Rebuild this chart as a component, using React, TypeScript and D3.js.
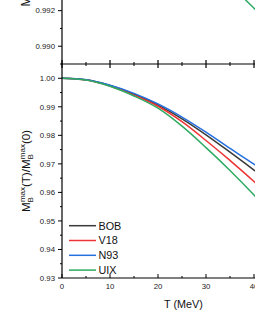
import React from 'react';
import * as d3 from 'd3';

const temps = [0, 5, 10, 15, 20, 25, 30, 35, 40, 42];
const bob = [1.0, 0.9995, 0.9975, 0.9944, 0.9906, 0.9858, 0.9802, 0.9741, 0.9678, 0.9652];
const v18 = [1.0, 0.9994, 0.9973, 0.9941, 0.9902, 0.9848, 0.9782, 0.9712, 0.9638, 0.9606];
const n93 = [1.0, 0.9995, 0.9976, 0.9947, 0.991, 0.9864, 0.9811, 0.9754, 0.9699, 0.9676];
const uix = [1.0, 0.9994, 0.9972, 0.9938, 0.9895, 0.9832, 0.9757, 0.9677, 0.9591, 0.9555];

// upper panel, only the UIX curve shows in this crop
const upperTemps = [36, 38, 40, 42];
const upperUix = [0.99325, 0.99267, 0.99214, 0.9916];

const seriesNames = ['BOB', 'V18', 'N93', 'UIX'];
const seriesColors = ['#3a3a3a', '#ee3434', '#2470e0', '#2eaa62'];
const seriesValues = [bob, v18, n93, uix];

const xMajor = [0, 10, 20, 30, 40];
const xMinor = [5, 15, 25, 35];
const lowMajor = [0.93, 0.94, 0.95, 0.96, 0.97, 0.98, 0.99, 1.0];
const lowMinor = [0.935, 0.945, 0.955, 0.965, 0.975, 0.985, 0.995];
const upMajor = [0.99, 0.992];
const upMinor = [0.989, 0.991];

const font = '"Liberation Sans", Arial, sans-serif';

export default function App() {
  const width = 255;
  const height = 330;

  const x = d3.scaleLinear().domain([0, 40]).range([62, 254]);
  const yLow = d3.scaleLinear().domain([0.93, 1.005]).range([278, 64]);
  const yUp = d3.scaleLinear().domain([0.989, 0.9926]).range([64, 0]);

  const lowLine = (vals: number[]) =>
    d3.line<number>()
      .x((_, i) => x(temps[i]))
      .y((v) => yLow(v))
      .curve(d3.curveMonotoneX)(vals) || '';

  const upLine = d3.line<number>()
    .x((_, i) => x(upperTemps[i]))
    .y((v) => yUp(v))
    .curve(d3.curveMonotoneX)(upperUix) || '';

  const axisX = x(0);
  const lowBase = yLow.range()[0];
  const split = yLow.range()[1];

  return (
    <svg width={width} height={height} style={{ position: 'absolute', left: 0, top: 0, background: '#fff' }}
      fontFamily={font}>
      <defs>
        <clipPath id="clipLow">
          <rect x={axisX} y={split} width={width} height={lowBase - split} />
        </clipPath>
        <clipPath id="clipUp">
          <rect x={axisX} y={0} width={width} height={split} />
        </clipPath>
      </defs>

      {/* upper panel */}
      <g clipPath="url(#clipUp)">
        <path d={upLine} fill="none" stroke={seriesColors[3]} strokeWidth={1.5} />
      </g>
      {upMajor.map((t) => (
        <g key={'um' + t}>
          <line x1={axisX - 4} x2={axisX} y1={yUp(t)} y2={yUp(t)} stroke="#000" strokeWidth={1} />
          <text x={axisX - 7} y={yUp(t) + 2.8} fontSize={7.8} textAnchor="end" fill="#222">{t.toFixed(3)}</text>
        </g>
      ))}
      {upMinor.map((t) => (
        <line key={'un' + t} x1={axisX - 2} x2={axisX} y1={yUp(t)} y2={yUp(t)} stroke="#000" strokeWidth={1} />
      ))}
      <text transform={`translate(30,6.5) rotate(-90)`} fontSize={12} fill="#111">M</text>

      {/* lower panel */}
      <g clipPath="url(#clipLow)">
        {seriesValues.map((vals, i) => (
          <path key={seriesNames[i]} d={lowLine(vals)} fill="none" stroke={seriesColors[i]} strokeWidth={1.5} />
        ))}
      </g>
      {lowMajor.map((t) => (
        <g key={'lm' + t}>
          <line x1={axisX - 4} x2={axisX} y1={yLow(t)} y2={yLow(t)} stroke="#000" strokeWidth={1} />
          <text x={axisX - 7} y={yLow(t) + 2.8} fontSize={7.8} textAnchor="end" fill="#222">{t.toFixed(2)}</text>
        </g>
      ))}
      {lowMinor.map((t) => (
        <line key={'ln' + t} x1={axisX - 2} x2={axisX} y1={yLow(t)} y2={yLow(t)} stroke="#000" strokeWidth={1} />
      ))}

      {/* shared split axis with crossing ticks */}
      <line x1={axisX} x2={width} y1={split} y2={split} stroke="#000" strokeWidth={1.2} />
      {xMajor.map((t) => (
        <line key={'sm' + t} x1={x(t)} x2={x(t)} y1={split - 4} y2={split + 4} stroke="#000" strokeWidth={1.2} />
      ))}
      {xMinor.map((t) => (
        <line key={'sn' + t} x1={x(t)} x2={x(t)} y1={split - 2} y2={split + 2} stroke="#000" strokeWidth={1} />
      ))}

      {/* bottom axis */}
      <line x1={axisX} x2={width} y1={lowBase} y2={lowBase} stroke="#000" strokeWidth={1.2} />
      {xMajor.map((t) => (
        <g key={'bm' + t}>
          <line x1={x(t)} x2={x(t)} y1={lowBase - 4} y2={lowBase} stroke="#000" strokeWidth={1} />
          <text x={x(t)} y={lowBase + 11} fontSize={7.8} textAnchor="middle" fill="#222">{t}</text>
        </g>
      ))}
      {xMinor.map((t) => (
        <line key={'bn' + t} x1={x(t)} x2={x(t)} y1={lowBase - 2} y2={lowBase} stroke="#000" strokeWidth={1} />
      ))}

      {/* left axis line */}
      <line x1={axisX} x2={axisX} y1={0} y2={lowBase} stroke="#000" strokeWidth={1.2} />

      <text x={183.5} y={307.7} fontSize={10.8} textAnchor="middle" fill="#111">T (MeV)</text>

      <text transform={`translate(30,171) rotate(-90)`} fontSize={11.5} textAnchor="middle" fill="#111">
        M<tspan fontSize={8} dy={3}>B</tspan>
        <tspan fontSize={8} dx={-5} dy={-8.5}>max</tspan>
        <tspan dy={5.5}>(T)/M</tspan>
        <tspan fontSize={8} dy={3}>B</tspan>
        <tspan fontSize={8} dx={-5} dy={-8.5}>max</tspan>
        <tspan dy={5.5}>(0)</tspan>
      </text>

      {/* legend */}
      {seriesNames.map((name, i) => {
        const ly = 225.7 + i * 14.8;
        return (
          <g key={'lg' + name}>
            <line x1={69} x2={96} y1={ly} y2={ly} stroke={seriesColors[i]} strokeWidth={1.5} />
            <text x={98.5} y={ly + 3.9} fontSize={10.8} fill="#111">{name}</text>
          </g>
        );
      })}
    </svg>
  );
}
